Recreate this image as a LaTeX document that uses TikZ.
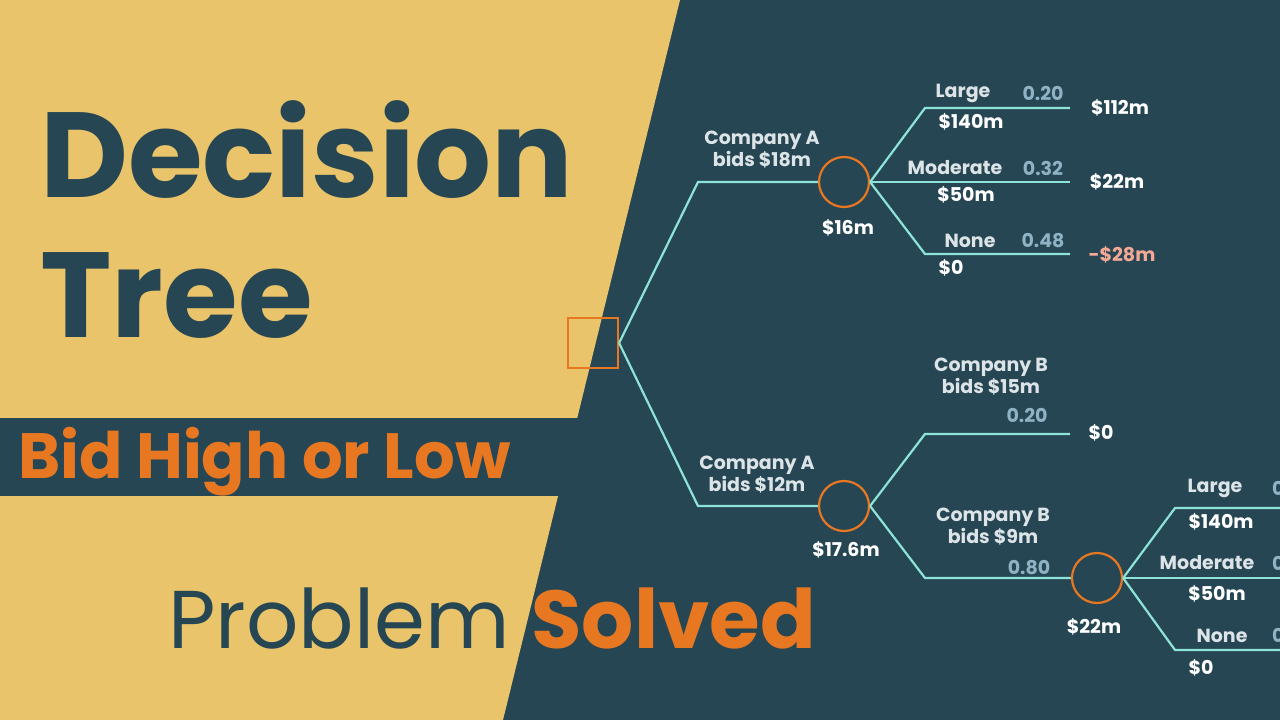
\documentclass[tikz,border=0pt]{standalone}
\usepackage{fontspec}
\setmainfont{Poppins}
\begin{document}
\definecolor{dk}{HTML}{264653}
\definecolor{yl}{HTML}{E9C46A}
\definecolor{og}{HTML}{E87722}
\definecolor{ln}{HTML}{8EE3D8}
\definecolor{pr}{HTML}{8FB3C4}
\definecolor{lt}{HTML}{DCE4E8}
\definecolor{ng}{HTML}{F4A896}
\begin{tikzpicture}[x=1pt,y=-1pt,
  br/.style={ln,line width=2.2pt},
  ch/.style={circle,draw=og,line width=2.2pt,minimum size=50pt,inner sep=0},
  lb/.style={font=\fontsize{19}{22}\selectfont\bfseries,text=lt,align=center,inner sep=0},
  vl/.style={font=\fontsize{19}{22}\selectfont\bfseries,text=white,inner sep=0},
  pb/.style={font=\fontsize{19}{22}\selectfont\bfseries,text=pr,inner sep=0}]
\clip (0,0) rectangle (1280,720);
\useasboundingbox (0,0) rectangle (1280,720);
\fill[dk] (0,0) rectangle (1280,720);
\fill[yl] (0,0) -- (680,0) -- (503,720) -- (0,720) -- cycle;
\fill[dk] (0,418) rectangle (600,496);
\node[anchor=base west,inner sep=0,text=dk,font=\fontsize{121}{126}\selectfont\bfseries] (t1) at (40,197) {Decision};
\node[anchor=base west,inner sep=0,text=dk,font=\fontsize{121}{126}\selectfont\bfseries] (t2) at (40,337) {Tree};
\node[anchor=base west,inner sep=0,text=og,font=\fontsize{64}{68}\selectfont\bfseries] (t3) at (18,478) {Bid High or Low};
\node[anchor=base west,inner sep=0,font=\fontsize{82}{86}\selectfont] (t4) at (168,648) {\textcolor{dk}{Problem} \textcolor{og}{\bfseries Solved}};
% tree
\node[draw=og,line width=2.2pt,minimum size=50pt,inner sep=0] (sq) at (593,343) {};
\node[ch] (c1) at (844,182) {};
\node[ch] (c2) at (844,506) {};
\node[ch] (c3) at (1097,578) {};
\coordinate (a1) at (698,182); \coordinate (a2) at (698,506);
\draw[br] (sq.east) -- (a1) -- (c1.west);
\draw[br] (sq.east) -- (a2) -- (c2.west);
\foreach \y/\n in {108/u,182/m,254/d}{
  \coordinate (k\n) at (925,\y); \coordinate (e\n) at (1070,\y);
  \draw[br] (c1.east) -- (k\n) -- (e\n);}
\coordinate (b1) at (925,434); \coordinate (f1) at (1070,434);
\coordinate (b2) at (925,578);
\draw[br] (c2.east) -- (b1) -- (f1);
\draw[br] (c2.east) -- (b2) -- (c3.west);
\foreach \y/\n in {508/u,578/m,650/d}{
  \coordinate (h\n) at (1175,\y); \coordinate (g\n) at (1290,\y);
  \draw[br] (c3.east) -- (h\n) -- (g\n);}
% labels
\node[lb] (l1) at (762,150) {Company A\\bids \$18m};
\node[vl] (v1) at (848,228) {\$16m};
\node[lb] (l2) at (963,93) {Large}; \node[pb] (p2) at (1043,93) {0.20};
\node[vl] (v2) at (971,122) {\$140m}; \node[vl] (r2) at (1120,108) {\$112m};
\node[lb] (l3) at (955,168) {Moderate}; \node[pb] (p3) at (1043,168) {0.32};
\node[vl] (v3) at (966,195) {\$50m}; \node[vl] (r3) at (1117,182) {\$22m};
\node[lb] (l4) at (970,241) {None}; \node[pb] (p4) at (1043,241) {0.48};
\node[vl] (v4) at (951,268) {\$0}; \node[vl,text=ng] (r4) at (1122,255) {-\$28m};
\node[lb] (l5) at (757,475) {Company A\\bids \$12m};
\node[vl] (v5) at (846,550) {\$17.6m};
\node[lb] (l6) at (991,377) {Company B\\bids \$15m}; \node[pb] (p6) at (1027,415) {0.20};
\node[vl] (r6) at (1101,433) {\$0};
\node[lb] (l7) at (993,527) {Company B\\bids \$9m}; \node[pb] (p7) at (1029,568) {0.80};
\node[vl] (v7) at (1094,627) {\$22m};
\node[lb] (l8) at (1215,488) {Large}; \node[pb,anchor=west] (p8) at (1272,488) {0.20};
\node[vl] (v8) at (1221,522) {\$140m};
\node[lb] (l9) at (1207,563) {Moderate}; \node[pb,anchor=west] (p9) at (1272,563) {0.32};
\node[vl] (v9) at (1217,594) {\$50m};
\node[lb] (l10) at (1222,636) {None}; \node[pb,anchor=west] (p10) at (1272,636) {0.48};
\node[vl] (v10) at (1201,668) {\$0};
\end{tikzpicture}
\end{document}
